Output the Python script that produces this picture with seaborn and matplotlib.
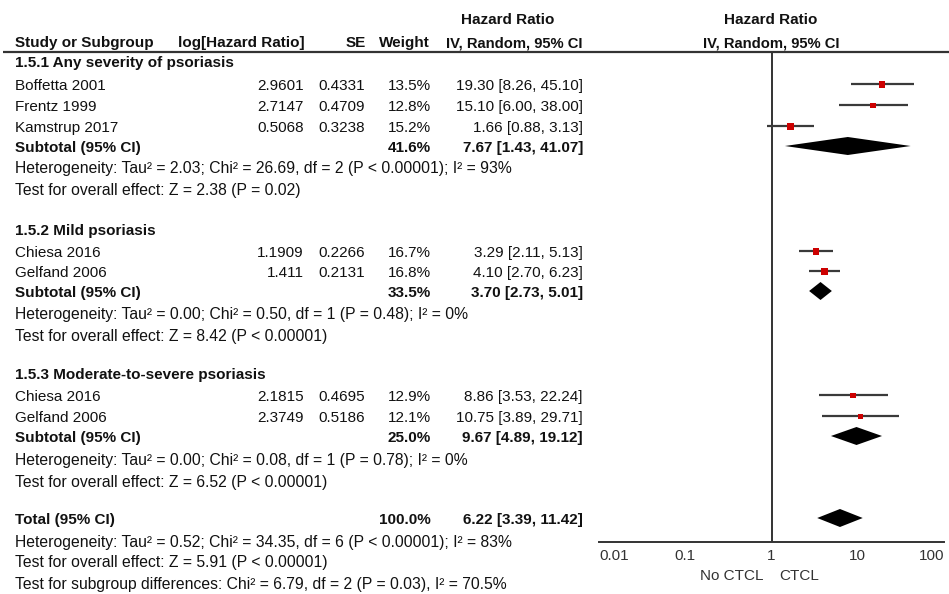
import matplotlib
matplotlib.use("Agg")
import matplotlib.pyplot as plt
from matplotlib.ticker import FixedLocator, NullLocator
import pandas as pd
import seaborn as sns

# ---- data -------------------------------------------------------------
groups = ["1.5.1 Any severity of psoriasis", "1.5.2 Mild psoriasis",
          "1.5.3 Moderate-to-severe psoriasis"]

study_names = ["Boffetta 2001", "Frentz 1999", "Kamstrup 2017",
               "Chiesa 2016", "Gelfand 2006",
               "Chiesa 2016", "Gelfand 2006"]
study_group = [0, 0, 0, 1, 1, 2, 2]
log_hr = [2.9601, 2.7147, 0.5068, 1.1909, 1.411, 2.1815, 2.3749]
se = [0.4331, 0.4709, 0.3238, 0.2266, 0.2131, 0.4695, 0.5186]
weight = [13.5, 12.8, 15.2, 16.7, 16.8, 12.9, 12.1]
hr = [19.30, 15.10, 1.66, 3.29, 4.10, 8.86, 10.75]
hr_lo = [8.26, 6.00, 0.88, 2.11, 2.70, 3.53, 3.89]
hr_hi = [45.10, 38.00, 3.13, 5.13, 6.23, 22.24, 29.71]

sub_weight = [41.6, 33.5, 25.0]
sub_hr = [7.67, 3.70, 9.67]
sub_lo = [1.43, 2.73, 4.89]
sub_hi = [41.07, 5.01, 19.12]

sub_het = ["Heterogeneity: Tau² = 2.03; Chi² = 26.69, df = 2 (P < 0.00001); I² = 93%",
           "Heterogeneity: Tau² = 0.00; Chi² = 0.50, df = 1 (P = 0.48); I² = 0%",
           "Heterogeneity: Tau² = 0.00; Chi² = 0.08, df = 1 (P = 0.78); I² = 0%"]
sub_test = ["Test for overall effect: Z = 2.38 (P = 0.02)",
            "Test for overall effect: Z = 8.42 (P < 0.00001)",
            "Test for overall effect: Z = 6.52 (P < 0.00001)"]

total_weight = 100.0
total_hr = 6.22
total_lo = 3.39
total_hi = 11.42
total_notes = ["Heterogeneity: Tau² = 0.52; Chi² = 34.35, df = 6 (P < 0.00001); I² = 83%",
               "Test for overall effect: Z = 5.91 (P < 0.00001)",
               "Test for subgroup differences: Chi² = 6.79, df = 2 (P = 0.03), I² = 70.5%"]

tick_values = [0.01, 0.1, 1, 10, 100]
tick_labels = ["0.01", "0.1", "1", "10", "100"]
favours = ["No CTCL", "CTCL"]

# ---- layout (vertical positions in pixel rows) --------------------------
W, H = 949, 594
group_y = [63, 231, 375]
study_y = [86, 107, 128, 253, 273, 397, 418]
sub_y = [148, 293, 438]
het_y = [169, 315, 461]
test_y = [190, 336, 482]
total_y = 520
total_note_y = [542, 563, 584]

col_name = 15
col_log = 304
col_se = 365
col_w = 431
col_ci = 583

FS = 11
FS_NOTE = 11.35
TXT = "#111111"

sns.set_style("white")
plt.rcParams["font.family"] = ["Liberation Sans", "DejaVu Sans"]

fig = plt.figure(figsize=(W / 100, H / 100), dpi=100)

# full-figure axes for the table text
tx = fig.add_axes([0, 0, 1, 1])
tx.set_xlim(0, W)
tx.set_ylim(H, 0)
tx.axis("off")


def put(x, y, s, ha="left", bold=False, color=TXT, size=FS):
    tx.text(x, y, s, ha=ha, va="center", fontsize=size, color=color,
            fontweight="bold" if bold else "normal")


def ci_text(v, lo, hi):
    return f"{v:.2f} [{lo:.2f}, {hi:.2f}]"


# header
put(508, 20, "Hazard Ratio", ha="center", bold=True)
put(col_name, 43, "Study or Subgroup", bold=True)
put(col_log + 1, 43, "log[Hazard Ratio]", ha="right", bold=True)
put(col_se + 1, 43, "SE", ha="right", bold=True)
put(col_w - 1, 43, "Weight", ha="right", bold=True)
put(col_ci, 43, "IV, Random, 95% CI", ha="right", bold=True, size=10.6)
put(771, 20, "Hazard Ratio", ha="center", bold=True)
put(771, 43, "IV, Random, 95% CI", ha="center", bold=True, size=10.6)
tx.plot([3, W], [52, 52], color="#333333", lw=1.6, solid_capstyle="butt")

# group blocks
for g, name in enumerate(groups):
    put(col_name, group_y[g], name, bold=True)
    for i in range(len(study_names)):
        if study_group[i] != g:
            continue
        y = study_y[i]
        put(col_name, y, study_names[i])
        put(col_log, y, str(log_hr[i]), ha="right")
        put(col_se, y, f"{se[i]:.4f}", ha="right")
        put(col_w, y, f"{weight[i]:.1f}%", ha="right")
        put(col_ci, y, ci_text(hr[i], hr_lo[i], hr_hi[i]), ha="right")
    put(col_name, sub_y[g], "Subtotal (95% CI)", bold=True)
    put(col_w, sub_y[g], f"{sub_weight[g]:.1f}%", ha="right", bold=True)
    put(col_ci, sub_y[g], ci_text(sub_hr[g], sub_lo[g], sub_hi[g]),
        ha="right", bold=True)
    put(col_name, het_y[g], sub_het[g], size=FS_NOTE)
    put(col_name, test_y[g], sub_test[g], size=FS_NOTE)

put(col_name, total_y, "Total (95% CI)", bold=True)
put(col_w, total_y, f"{total_weight:.1f}%", ha="right", bold=True)
put(col_ci, total_y, ci_text(total_hr, total_lo, total_hi), ha="right", bold=True)
for yy, s in zip(total_note_y, total_notes):
    put(col_name, yy, s, size=FS_NOTE)

# ---- forest panel ------------------------------------------------------
x0, x1 = 599, 944
y_top, y_axis = 52, 542
ax = fig.add_axes([x0 / W, (H - y_axis) / H, (x1 - x0) / W, (y_axis - y_top) / H])
ax.set_xscale("log")

# line of no effect
ax.axvline(1, color="#333333", lw=1.4, zorder=1)

# study confidence intervals
ax.hlines([y - 1.5 for y in study_y], hr_lo, hr_hi, color="#3a3a3a", lw=1.6, zorder=2)

studies = pd.DataFrame({"hr": hr, "y": [y - 1.5 for y in study_y], "weight": weight})
sns.scatterplot(data=studies, x="hr", y="y", size="weight", sizes=(0, 28),
                size_norm=(0, 20), marker="s", color="#cc0000", linewidth=0,
                legend=False, ax=ax, zorder=3)

# pooled-estimate diamonds
half_h = 9
pooled = list(zip(sub_hr + [total_hr], sub_lo + [total_lo], sub_hi + [total_hi],
                  sub_y + [total_y]))
for est, lo, hi, y in pooled:
    yc = y - 2
    ax.fill([lo, est, hi, est], [yc, yc - half_h, yc, yc + half_h],
            color="black", lw=0, zorder=3)

ax.set_xlim(tick_values[0], tick_values[-1])
ax.set_ylim(y_axis, y_top)
ax.set_xlabel("")
ax.set_ylabel("")
ax.set_yticks([])
for side in ("top", "right", "left"):
    ax.spines[side].set_visible(False)
ax.spines["bottom"].set_color("#333333")
ax.spines["bottom"].set_linewidth(1.4)
ax.xaxis.set_major_locator(FixedLocator(tick_values))
ax.xaxis.set_minor_locator(NullLocator())
ax.set_xticklabels(tick_labels)
ax.tick_params(axis="x", direction="inout", length=8, width=1.4, color="#333333",
               pad=1, labelsize=FS, labelcolor="#333333")
labels = ax.get_xticklabels()
labels[0].set_ha("left")
labels[-1].set_ha("right")
ax.patch.set_alpha(0)

# favours labels
put(764, 576, favours[0], ha="right", color="#333333")
put(779, 576, favours[1], ha="left", color="#333333")

fig.savefig("out.png", dpi=100)
